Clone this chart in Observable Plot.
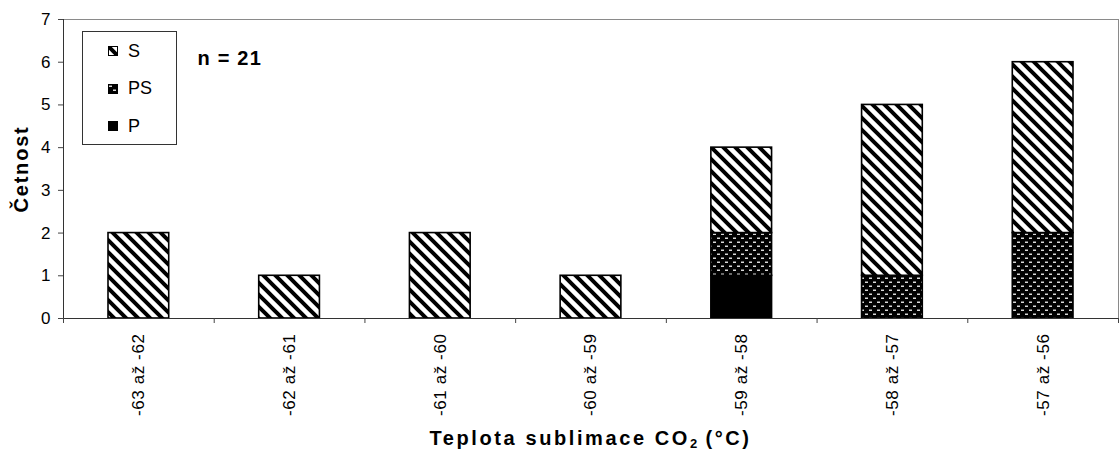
<!DOCTYPE html>
<html>
<head>
<meta charset="utf-8">
<script src="https://cdn.jsdelivr.net/npm/d3@7"></script>
<script src="https://cdn.jsdelivr.net/npm/@observablehq/plot@0.6"></script>
<style>
  body { margin: 0; background: white; font-family: "Liberation Sans", Arial, sans-serif; }
  #wrap { position: relative; width: 1119px; height: 452px; overflow: hidden; }
  .xlab text { letter-spacing: 0.6px; }
  .ylab text { letter-spacing: 1.8px; }
  .ncount text { letter-spacing: 1.2px; }
  #xtitle {
    position: absolute; left: 63px; width: 1055px; top: 426px;
    text-align: center; font-weight: bold; font-size: 20px; letter-spacing: 2.6px;
    line-height: 24px;
  }
  #xtitle sub { font-size: 13px; vertical-align: -3px; letter-spacing: 0; }
  #legend {
    position: absolute; left: 82px; top: 31px; width: 95px; height: 114px;
    border: 1px solid #333; box-sizing: border-box; font-size: 18px;
  }
  #legend .row { position: absolute; left: 25px; display: flex; align-items: center; height: 20px; }
  #legend svg { margin-right: 10px; }
</style>
</head>
<body>
<div id="wrap"></div>
<script>
// Temperature class of CO2 sublimation and number of inclusions of each type
const categories = ["-63 až -62", "-62 až -61", "-61 až -60", "-60 až -59", "-59 až -58", "-58 až -57", "-57 až -56"];
const countP  = [0, 0, 0, 0, 1, 0, 0];
const countPS = [0, 0, 0, 0, 1, 1, 2];
const countS  = [2, 1, 2, 1, 2, 4, 4];
const seriesNames = ["S", "PS", "P"];
const seriesFills = ["url(#hatch-s)", "url(#dots-ps)", "black"];
const yTicks = [0, 1, 2, 3, 4, 5, 6, 7];
const xTitle = "Teplota sublimace CO";
const yTitle = "Četnost";

// long table, stacked bottom-up: P, PS, S
const rows = [];
categories.forEach((c, i) => {
  [["P", countP[i]], ["PS", countPS[i]], ["S", countS[i]]].forEach(([type, count]) => {
    if (count > 0) rows.push({i, i2: i + 1, cat: c, type, count});
  });
});
const total = d3.sum(rows, d => d.count);

const chart = Plot.plot({
  width: 1119,
  height: 420,
  marginLeft: 63,
  marginRight: 1,
  marginTop: 19,
  marginBottom: 102,
  style: {fontFamily: "'Liberation Sans', Arial, sans-serif", fontSize: "17px", color: "black", background: "white"},
  x: {domain: [0, categories.length]},
  y: {domain: [0, 7]},
  color: {domain: seriesNames, range: seriesFills},
  marks: [
    Plot.frame({stroke: "#8a8a8a"}),
    Plot.rectY(rows, {x1: "i", x2: "i2", y: "count", fill: "type", stroke: "black", strokeWidth: 1.6, insetLeft: 45, insetRight: 45}),
    Plot.ruleY([0], {stroke: "#333"}),
    Plot.ruleX([0], {stroke: "#333"}),
    Plot.axisY({ticks: yTicks, tickFormat: "d", tickSize: 5, tickPadding: 8, fontSize: 17, label: null, stroke: "#444"}),
    Plot.axisX({ticks: d3.range(categories.length + 1), tickSize: 5, tickFormat: () => "", label: null, stroke: "#444"}),
    Plot.text(categories, {x: (d, i) => i + 0.5, y: () => 0, text: d => d, rotate: -90, textAnchor: "end", dy: 15, fontSize: 17, className: "xlab"}),
    Plot.text([yTitle], {frameAnchor: "left", rotate: -90, textAnchor: "middle", dx: -42, fontWeight: "bold", fontSize: 20, className: "ylab"}),
    Plot.text([`n = ${total}`], {frameAnchor: "top-left", dx: 134, dy: 31.5, textAnchor: "start", fontWeight: "bold", fontSize: 20, className: "ncount"})
  ]
});

// fill patterns used by the bars and legend swatches
const defs = d3.select(chart).insert("defs", ":first-child");
const hs = defs.append("pattern").attr("id", "hatch-s").attr("patternUnits", "userSpaceOnUse")
  .attr("width", 12).attr("height", 12);
hs.append("rect").attr("width", 12).attr("height", 12).attr("fill", "white");
hs.append("path").attr("d", "M-3,-3L15,15M-3,9L3,15M9,-3L15,3").attr("stroke", "black").attr("stroke-width", 4);
const ps = defs.append("pattern").attr("id", "dots-ps").attr("patternUnits", "userSpaceOnUse")
  .attr("width", 8).attr("height", 8);
ps.append("rect").attr("width", 8).attr("height", 8).attr("fill", "black");
ps.append("rect").attr("x", 1).attr("y", 1.5).attr("width", 3).attr("height", 1.5).attr("fill", "#d8d8d8");
ps.append("rect").attr("x", 5).attr("y", 5.5).attr("width", 3).attr("height", 1.5).attr("fill", "#d8d8d8");

const wrap = document.getElementById("wrap");
wrap.appendChild(chart);

// legend box
const legend = d3.select(wrap).append("div").attr("id", "legend");
seriesNames.forEach((name, k) => {
  const row = legend.append("div").attr("class", "row").style("top", `${9 + k * 37.5}px`);
  const sw = row.append("svg").attr("width", 10).attr("height", 10);
  sw.append("rect").attr("x", 0.5).attr("y", 0.5).attr("width", 9).attr("height", 9)
    .attr("fill", seriesFills[k]).attr("stroke", "black").attr("stroke-width", 1);
  row.append("span").text(name);
});

// axis title with subscript
const xt = d3.select(wrap).append("div").attr("id", "xtitle");
xt.append("span").text(xTitle);
xt.append("sub").text("2");
xt.append("span").text(" (°C)");
</script>
</body>
</html>
